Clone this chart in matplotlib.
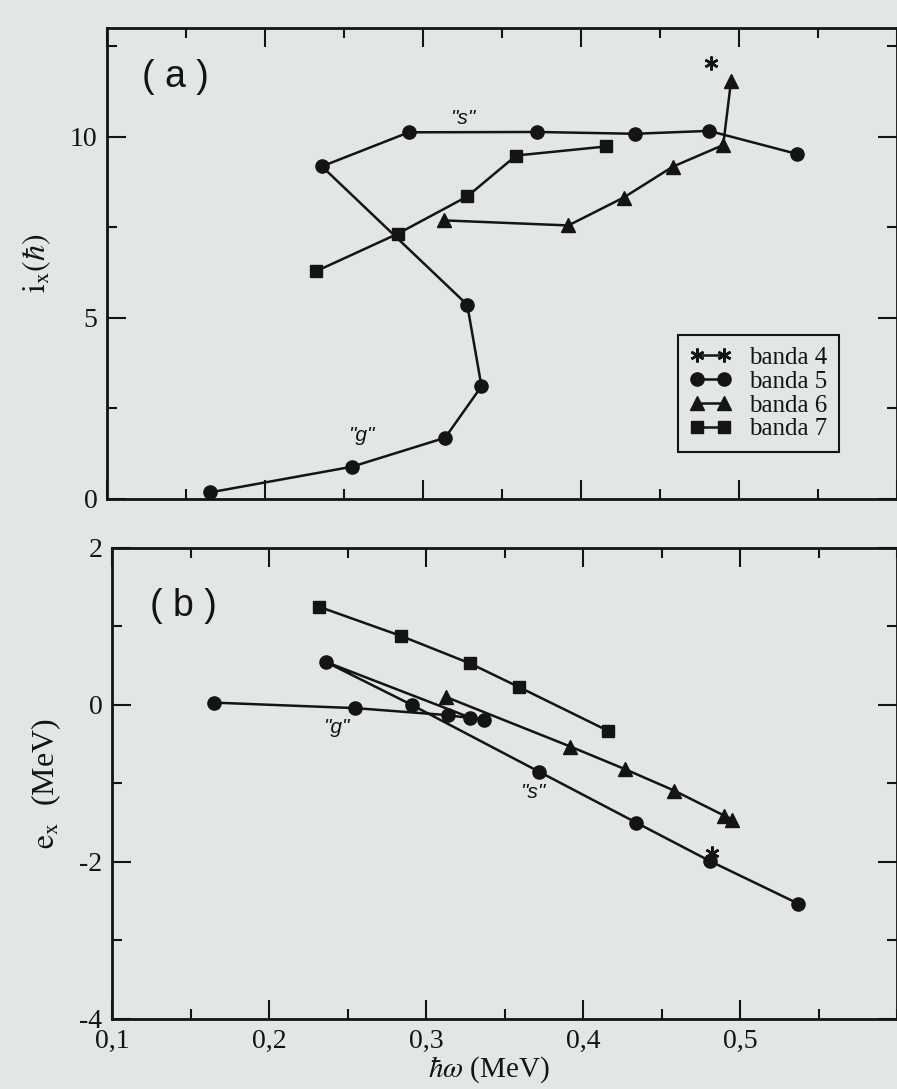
import matplotlib
matplotlib.use("Agg")
import matplotlib.pyplot as plt
from matplotlib.ticker import MultipleLocator, FuncFormatter

# ---- data -------------------------------------------------------------
# banda 4 (single point)
hw_b4 = [0.482]
ix_b4 = [12.04]
ex_b4 = [-1.89]

# banda 5 ("g" -> "s" band crossing)
hw_b5 = [0.165, 0.255, 0.314, 0.337, 0.328, 0.236, 0.291, 0.372, 0.434, 0.481, 0.537]
ix_b5 = [0.18, 0.89, 1.69, 3.11, 5.36, 9.18, 10.12, 10.13, 10.08, 10.16, 9.52]
ex_b5 = [0.03, -0.04, -0.13, -0.19, -0.16, 0.55, 0.00, -0.85, -1.50, -1.99, -2.53]

# banda 6
hw_b6 = [0.313, 0.392, 0.427, 0.458, 0.490, 0.495]
ix_b6 = [7.69, 7.55, 8.32, 9.17, 9.77, 11.55]
ex_b6 = [0.10, -0.53, -0.82, -1.09, -1.41, -1.46]

# banda 7
hw_b7 = [0.232, 0.284, 0.328, 0.359, 0.416]
ix_b7 = [6.28, 7.32, 8.35, 9.48, 9.73]
ex_b7 = [1.25, 0.88, 0.53, 0.23, -0.33]

band_labels = ["banda 4", "banda 5", "banda 6", "banda 7"]
x_ticks = [0.1, 0.2, 0.3, 0.4, 0.5]

# ---- style ------------------------------------------------------------
plt.rcParams["font.family"] = ["Liberation Serif", "DejaVu Serif"]
plt.rcParams["mathtext.fontset"] = "stix"
plt.rcParams["axes.unicode_minus"] = False

paper = "#e3e7e4"
ink = "#141414"

fig = plt.figure(figsize=(8.97, 10.89), dpi=100, facecolor=paper)
ax_a = fig.add_axes([0.1193, 0.5418, 0.8807, 0.4325], facecolor=paper)
ax_b = fig.add_axes([0.1249, 0.0643, 0.8751, 0.4325], facecolor=paper)

line_kw = dict(color=ink, lw=1.8, mec=ink, mfc=ink)
star = dict(marker=(6, 2, 0), ms=10, mew=1.8)
circ = dict(marker="o", ms=9.5)
tri = dict(marker="^", ms=10)
sq = dict(marker="s", ms=8)


def style_axis(ax):
    for sp in ax.spines.values():
        sp.set_linewidth(2.0)
        sp.set_color(ink)
    ax.tick_params(which="both", direction="in", top=True, right=True,
                   color=ink, width=1.5, labelsize=20, labelcolor=ink)
    ax.tick_params(which="major", length=14, pad=7)
    ax.tick_params(which="minor", length=7)
    ax.set_xlim(0.1, 0.6)
    ax.xaxis.set_major_locator(MultipleLocator(0.1))
    ax.xaxis.set_minor_locator(MultipleLocator(0.05))


# ---- panel (a): aligned angular momentum ------------------------------
ax = ax_a
h4, = ax.plot(hw_b4, ix_b4, ls="-", **star, **line_kw)
h5, = ax.plot(hw_b5, ix_b5, **circ, **line_kw)
h6, = ax.plot(hw_b6, ix_b6, **tri, **line_kw)
h7, = ax.plot(hw_b7, ix_b7, **sq, **line_kw)
style_axis(ax)
ax.set_ylim(0, 13)
ax.yaxis.set_major_locator(MultipleLocator(5))
ax.yaxis.set_minor_locator(MultipleLocator(2.5))
ax.tick_params(axis="x", labelbottom=False)
ax.set_ylabel(r"$\mathrm{i}_{\mathrm{x}}(\hbar)$", fontsize=23, labelpad=12, color=ink)
ax.text(0.087, 0.896, "( a )", transform=ax.transAxes, fontsize=27,
        family="Liberation Sans", ha="center", va="center", color=ink)
ax.text(0.325, 10.5, '"s"', style="italic", family="Liberation Sans",
        fontsize=15, ha="center", va="center", color=ink)
ax.text(0.261, 1.74, '"g"', style="italic", family="Liberation Sans",
        fontsize=15, ha="center", va="center", color=ink)
leg = ax.legend([h4, h5, h6, h7], band_labels, loc="upper right",
                bbox_to_anchor=(0.942, 0.374), fontsize=18, numpoints=2,
                handlelength=1.7, handletextpad=0.7, labelspacing=0.05,
                borderpad=0.45, fancybox=False, framealpha=1,
                facecolor=paper, edgecolor=ink)
leg.get_frame().set_linewidth(1.5)
for t in leg.get_texts():
    t.set_color(ink)

# ---- panel (b): Routhian ----------------------------------------------
ax = ax_b
ax.plot(hw_b5, ex_b5, **circ, **line_kw)
ax.plot(hw_b6, ex_b6, **tri, **line_kw)
ax.plot(hw_b7, ex_b7, **sq, **line_kw)
ax.plot(hw_b4, ex_b4, ls="none", **star, **line_kw)
style_axis(ax)
ax.set_ylim(-4, 2)
ax.yaxis.set_major_locator(MultipleLocator(2))
ax.yaxis.set_minor_locator(MultipleLocator(1))
ax.set_xticks(x_ticks)
ax.xaxis.set_major_formatter(FuncFormatter(lambda v, p: f"{v:.1f}".replace(".", ",")))
ax.set_ylabel(r"$\mathrm{e}_{\mathrm{x}}$  (MeV)", fontsize=23, labelpad=12, color=ink)
ax.set_xlabel(r"$\hbar\omega$ (MeV)", fontsize=21, color=ink, va="center")
ax.xaxis.set_label_coords(0.48, -0.108)
ax.text(0.091, 0.877, "( b )", transform=ax.transAxes, fontsize=27,
        family="Liberation Sans", ha="center", va="center", color=ink)
ax.text(0.243, -0.29, '"g"', style="italic", family="Liberation Sans",
        fontsize=15, ha="center", va="center", color=ink)
ax.text(0.368, -1.11, '"s"', style="italic", family="Liberation Sans",
        fontsize=15, ha="center", va="center", color=ink)

fig.savefig("out.png", dpi=100, facecolor=paper)
